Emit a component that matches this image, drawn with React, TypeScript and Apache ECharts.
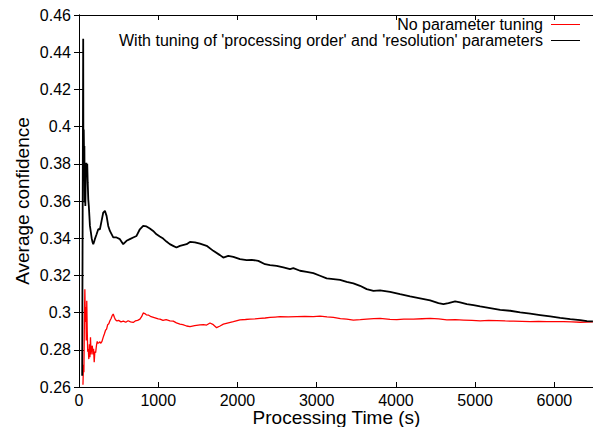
import React, { useEffect, useRef } from "react";
import * as echarts from "echarts";

const seriesNames = [
  "No parameter tuning",
  "With tuning of 'processing order' and 'resolution' parameters",
];
const seriesColors = ["#ff0000", "#000000"];

const xTitle = "Processing Time (s)";
const yTitle = "Average confidence";

const redTime = [
  50, 56, 62, 68, 74, 80, 86, 92, 98, 104, 110, 117, 124, 131, 138, 145, 152, 160, 168, 176, 184, 192, 200,
  210, 220, 230, 240, 252, 264, 276, 290, 306, 320, 335, 348, 362, 376, 390, 405, 420, 432, 446, 460, 480,
  500, 530, 560, 590, 620, 650, 684, 710, 740, 769, 790, 811, 830, 850, 880, 910, 940, 970, 1000, 1022, 1060,
  1100, 1148, 1190, 1230, 1274, 1310, 1358, 1401, 1460, 1527, 1570, 1611, 1653, 1695, 1737, 1780, 1822, 1885,
  1948, 2032, 2100, 2158, 2220, 2285, 2350, 2411, 2475, 2537, 2640, 2748, 2850, 2958, 3042, 3130, 3211, 3300,
  3379, 3463, 3550, 3631, 3720, 3800, 3926, 4011, 4100, 4221, 4330, 4432, 4540, 4643, 4750, 4853, 4960, 5064,
  5170, 5274, 5380, 5485, 5590, 5695, 5800, 5906, 6010, 6116, 6220, 6327, 6410, 6486,
];
const redValue = [
  0.2612, 0.272, 0.268, 0.295, 0.3126, 0.295, 0.303, 0.285, 0.3063, 0.29, 0.279, 0.2804, 0.275, 0.283, 0.276,
  0.2868, 0.2775, 0.281, 0.2822, 0.2775, 0.2805, 0.2733, 0.279, 0.2785, 0.2822, 0.2845, 0.2835, 0.2838, 0.2843,
  0.2835, 0.2845, 0.2868, 0.2885, 0.2905, 0.2911, 0.2935, 0.294, 0.2956, 0.2968, 0.2985, 0.2992, 0.2975, 0.2962,
  0.2955, 0.2958, 0.295, 0.2954, 0.2948, 0.2956, 0.295, 0.2947, 0.2955, 0.2958, 0.2965, 0.2978, 0.2998, 0.2995,
  0.2988, 0.2986, 0.2978, 0.2974, 0.297, 0.2966, 0.2965, 0.2958, 0.2962, 0.2956, 0.2954, 0.2945, 0.2938, 0.2935,
  0.2928, 0.2924, 0.293, 0.2934, 0.2935, 0.2933, 0.2944, 0.2935, 0.2919, 0.2928, 0.2938, 0.2945, 0.2951, 0.2961,
  0.2963, 0.2965, 0.2966, 0.2969, 0.2971, 0.2974, 0.2976, 0.2978, 0.2977, 0.2978, 0.2979, 0.2978, 0.2981, 0.2977,
  0.2974, 0.2968, 0.2965, 0.296, 0.2962, 0.2965, 0.2968, 0.2969, 0.2964, 0.2962, 0.2965, 0.2965, 0.2967, 0.2969,
  0.2966, 0.2961, 0.2962, 0.296, 0.2958, 0.2956, 0.2958, 0.2957, 0.2955, 0.2954, 0.2953, 0.2951, 0.2953, 0.2952,
  0.2951, 0.2951, 0.295, 0.2948, 0.2949, 0.295,
];

const blackTime = [
  40, 53, 56, 60, 64, 68, 72, 76, 80, 86, 92, 98, 104, 110, 117, 124, 131, 138, 150, 160, 170, 180, 190, 200,
  222, 243, 264, 285, 306, 327, 348, 369, 390, 432, 474, 516, 558, 600, 642, 684, 726, 768, 810, 852, 894, 936,
  978, 1020, 1062, 1104, 1146, 1188, 1230, 1274, 1358, 1400, 1463, 1527, 1611, 1695, 1779, 1821, 1884, 1948,
  2032, 2116, 2179, 2263, 2348, 2411, 2495, 2579, 2663, 2705, 2790, 2874, 2958, 3042, 3126, 3211, 3295, 3379,
  3463, 3547, 3631, 3716, 3800, 3926, 4052, 4179, 4305, 4432, 4537, 4600, 4663, 4747, 4810, 4895, 4979, 5063,
  5189, 5316, 5442, 5568, 5695, 5821, 5947, 6073, 6200, 6326, 6410, 6486,
];
const blackValue = [
  0.266, 0.4472, 0.372, 0.3985, 0.3842, 0.3896, 0.3592, 0.3681, 0.3573, 0.3753, 0.3806, 0.376, 0.38, 0.37,
  0.3609, 0.3573, 0.352, 0.3466, 0.3431, 0.34, 0.338, 0.3368, 0.338, 0.3395, 0.3421, 0.3448, 0.3448, 0.3493,
  0.3538, 0.3547, 0.352, 0.3466, 0.3439, 0.3404, 0.3404, 0.3395, 0.3368, 0.3386, 0.3395, 0.3404, 0.3412, 0.3448,
  0.3466, 0.3463, 0.3452, 0.3439, 0.3421, 0.3409, 0.3398, 0.3382, 0.3368, 0.3359, 0.335, 0.3359, 0.3368, 0.338,
  0.3377, 0.3371, 0.3359, 0.3332, 0.3309, 0.3296, 0.3305, 0.33, 0.3287, 0.3282, 0.3284, 0.3278, 0.326, 0.3255,
  0.3251, 0.3243, 0.3234, 0.3239, 0.3225, 0.3219, 0.3212, 0.3198, 0.3184, 0.318, 0.3176, 0.3165, 0.3157, 0.3144,
  0.3126, 0.3117, 0.3119, 0.3111, 0.3099, 0.3087, 0.3077, 0.3066, 0.3051, 0.3046, 0.3051, 0.306, 0.3055, 0.3046,
  0.304, 0.3033, 0.3024, 0.3015, 0.301, 0.3001, 0.2994, 0.2987, 0.298, 0.2972, 0.2965, 0.296, 0.2954, 0.2953,
];

const xTicks = [0, 1000, 2000, 3000, 4000, 5000, 6000];
const yTicks = ["0.26", "0.28", "0.3", "0.32", "0.34", "0.36", "0.38", "0.4", "0.42", "0.44", "0.46"];

const FONT = "'Liberation Sans', Arial, Helvetica, sans-serif";

export default function App() {
  const ref = useRef<HTMLDivElement>(null);

  useEffect(() => {
    if (!ref.current) return;
    const chart = echarts.init(ref.current, null, { renderer: "svg" });

    const xMin = xTicks[0];
    const xInterval = xTicks[1] - xTicks[0];
    const yMin = parseFloat(yTicks[0]);
    const yMax = parseFloat(yTicks[yTicks.length - 1]);
    const yInterval = parseFloat(yTicks[1]) - parseFloat(yTicks[0]);

    const axisLine = { show: true, lineStyle: { color: "#000", width: 1 } };
    const axisTick = { show: true, inside: true, length: 5, lineStyle: { color: "#000", width: 1 } };

    const yFmt = (v: number) => {
      const s = yTicks.find((t) => Math.abs(parseFloat(t) - v) < 1e-6);
      return s ?? "";
    };

    const red = redTime.map((t, i) => [t, redValue[i]]);
    const black = blackTime.map((t, i) => [t, blackValue[i]]);

    const legendY = [24.5, 40.5];

    chart.setOption({
      animation: false,
      backgroundColor: "#fff",
      grid: {
        left: 79,
        top: 15,
        width: 515,
        height: 372,
        containLabel: false,
        outerBoundsMode: "none",
      },
      xAxis: [
        {
          type: "value",
          min: xMin,
          max: 6500,
          interval: xInterval,
          position: "bottom",
          axisLine,
          axisTick,
          splitLine: { show: false },
          axisLabel: {
            color: "#000",
            fontSize: 16,
            lineHeight: 14,
            fontFamily: FONT,
            margin: 6,
            showMaxLabel: false,
            formatter: (v: number) => (xTicks.includes(v) ? String(v) : ""),
          },
          name: xTitle,
          nameLocation: "middle",
          nameGap: 22,
          nameMoveOverlap: false,
          nameTextStyle: { color: "#000", fontSize: 19, lineHeight: 16, fontFamily: FONT },
        },
        {
          type: "value",
          min: xMin,
          max: 6500,
          interval: xInterval,
          position: "top",
          axisLine,
          axisTick,
          splitLine: { show: false },
          axisLabel: { show: false },
        },
      ],
      yAxis: [
        {
          type: "value",
          min: yMin,
          max: yMax,
          interval: yInterval,
          position: "left",
          axisLine,
          axisTick,
          splitLine: { show: false },
          axisLabel: { color: "#000", fontSize: 16, fontFamily: FONT, margin: 8, formatter: yFmt },
          name: yTitle,
          nameLocation: "middle",
          nameGap: 47,
          nameRotate: 90,
          nameMoveOverlap: false,
          nameTextStyle: { color: "#000", fontSize: 19, fontFamily: FONT },
        },
        {
          type: "value",
          min: yMin,
          max: yMax,
          interval: yInterval,
          position: "right",
          axisLine,
          axisTick,
          splitLine: { show: false },
          axisLabel: { show: false },
        },
      ],
      series: [
        {
          name: seriesNames[0],
          type: "line",
          data: red,
          showSymbol: false,
          symbol: "none",
          lineStyle: { color: seriesColors[0], width: 1.3 },
          z: 2,
        },
        {
          name: seriesNames[1],
          type: "line",
          data: black,
          showSymbol: false,
          symbol: "none",
          lineStyle: { color: seriesColors[1], width: 1.8 },
          z: 3,
        },
      ],
      graphic: seriesNames.flatMap((name, i) => [
        {
          type: "text",
          x: 543,
          y: legendY[i],
          style: {
            text: name,
            fill: "#000",
            fontSize: 16,
            lineHeight: 15,
            fontFamily: FONT,
            align: "right",
            verticalAlign: "middle",
            textAlign: "right",
            textVerticalAlign: "middle",
          },
        },
        {
          type: "line",
          shape: { x1: 551, y1: legendY[i], x2: 580, y2: legendY[i] },
          style: { stroke: seriesColors[i], lineWidth: 1 },
        },
      ]),
    });

    return () => chart.dispose();
  }, []);

  return <div ref={ref} style={{ width: 593, height: 427, position: "absolute", left: 0, top: 0 }} />;
}
